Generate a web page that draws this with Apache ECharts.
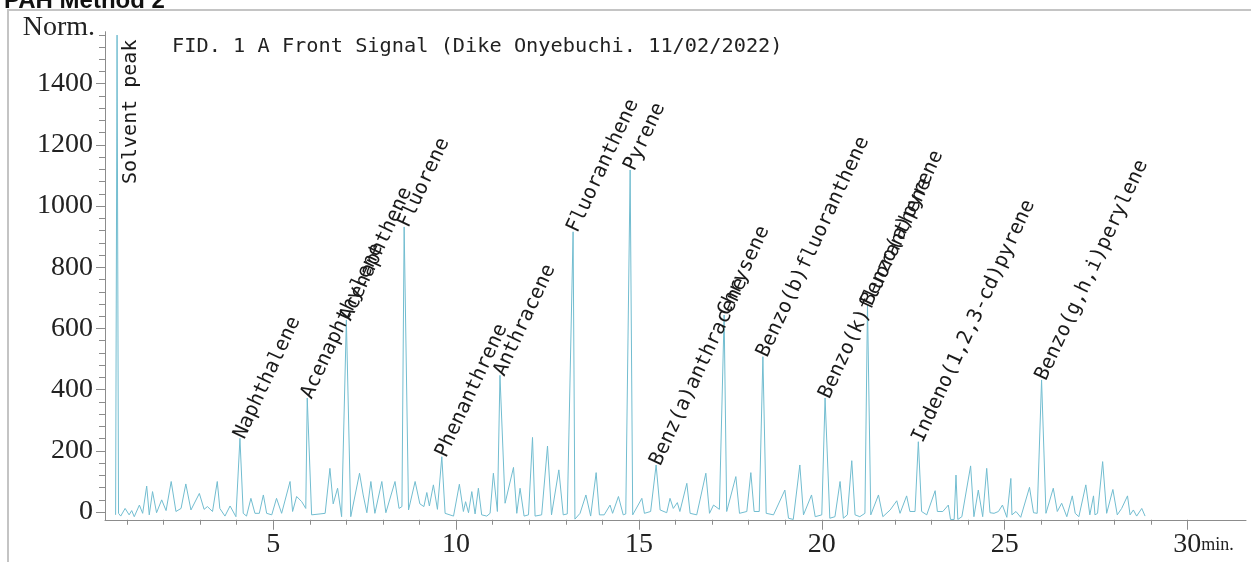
<!DOCTYPE html>
<html><head><meta charset="utf-8">
<script src="https://cdn.jsdelivr.net/npm/echarts@6/dist/echarts.min.js"></script>
<style>html,body{margin:0;padding:0;background:#fff}#c{width:1251px;height:562px}</style>
</head><body><div id="c"></div>
<script>
// Retention time (min) of each vertex of the trace
const retentionTime = [
0.69,0.73,0.77,0.83,0.95,1.06,1.13,1.20,1.34,1.43,1.54,1.61,1.70,1.81,1.95,2.07,2.21,2.34,2.48,2.61,
2.75,2.98,3.11,3.20,3.34,3.47,3.54,3.68,3.82,3.98,4.09,4.18,4.27,4.39,4.50,4.62,4.73,4.82,4.96,5.09,
5.23,5.46,5.53,5.64,5.78,5.89,5.93,6.05,6.28,6.42,6.55,6.64,6.76,6.87,7.00,7.12,7.36,7.46,7.56,7.67,
7.78,7.97,8.08,8.33,8.44,8.52,8.58,8.70,8.88,9.01,9.12,9.20,9.27,9.38,9.49,9.61,9.70,9.93,10.09,10.20,
10.26,10.34,10.43,10.52,10.61,10.70,10.84,10.93,11.02,11.13,11.20,11.34,11.57,11.66,11.75,11.86,11.98,12.09,12.16,12.34,
12.50,12.61,12.81,12.93,13.04,13.20,13.25,13.39,13.55,13.68,13.83,13.92,14.05,14.21,14.28,14.44,14.57,14.64,14.76,14.83,
15.08,15.15,15.32,15.47,15.58,15.76,15.85,15.94,16.05,16.12,16.31,16.40,16.58,16.83,16.93,17.04,17.20,17.33,17.40,17.65,
17.75,17.95,18.06,18.15,18.29,18.39,18.48,18.68,18.99,19.09,19.22,19.40,19.50,19.72,19.82,20.00,20.09,20.22,20.36,20.50,
20.59,20.70,20.82,20.91,21.04,21.18,21.25,21.34,21.55,21.67,21.87,22.05,22.14,22.32,22.41,22.55,22.64,22.73,22.87,23.10,
23.16,23.31,23.46,23.52,23.62,23.67,23.72,23.83,24.07,24.16,24.28,24.40,24.51,24.60,24.71,24.83,24.94,25.06,25.17,25.20,
25.31,25.44,25.68,25.79,25.89,26.01,26.13,26.33,26.44,26.56,26.70,26.85,26.93,27.03,27.22,27.33,27.43,27.47,27.54,27.68,
27.79,27.96,28.08,28.20,28.36,28.43,28.52,28.61,28.75,28.84
];
// Detector response (Norm.) at each vertex
const signal = [
-9,1559,-4,-13,12,-9,5,-15,23,-4,85,-9,67,-2,40,5,100,2,12,92,
7,61,9,18,2,100,12,-13,20,-15,241,-4,-13,45,-4,-4,56,-4,-9,45,
-4,100,2,51,34,12,373,-9,-6,-4,143,27,78,-15,628,-15,127,56,-2,100,
-4,100,-2,100,12,18,932,7,100,27,18,64,20,89,9,181,-4,-13,91,2,
34,-2,67,-6,78,-9,-13,-4,127,2,447,29,146,-4,78,-13,-9,244,-13,-9,
216,-9,138,-9,-6,916,-23,-4,56,-13,129,-9,-9,23,-4,51,-9,-6,1118,-9,
45,-4,2,154,7,-2,45,12,31,2,94,-4,-9,127,-4,23,9,644,2,116,
-4,2,129,2,2,508,-4,-9,72,-20,-24,154,-9,56,-15,-9,373,-20,-15,100,
-20,-9,168,-9,-15,-4,677,-9,56,-15,7,37,-4,53,2,2,230,2,-9,70,
2,2,23,-24,-24,121,-24,-15,151,-15,72,-15,143,-2,-4,2,23,-17,110,-9,
2,-17,81,-2,-4,432,-4,78,2,29,-15,53,-4,-15,89,-9,53,-9,-4,165,
-4,74,-9,12,53,-9,7,-13,12,-13
];
// Peak annotations
const peakNames = ['Solvent peak','Naphthalene','Acenaphthylene','Acenaphthene','Fluorene','Phenanthrene','Anthracene',
  'Fluoranthene','Pyrene','Benz(a)anthracene','Chrysene','Benzo(b)fluoranthene','Benzo(k)fluoranthene',
  'Benzo(a)pyrene','Indeno(1,2,3-cd)pyrene','Benzo(g,h,i)perylene'];
const peakTimes = [0.73,4.09,5.93,7.00,8.58,9.61,11.20,13.20,14.76,15.47,17.33,18.39,20.09,21.25,22.64,26.01];
const peakHeights = [1559,241,373,628,932,181,447,916,1118,154,644,508,373,677,230,432];
// Axis tick labels
const xTickLabels = [5,10,15,20,25,30];
const yTickLabels = [0,200,400,600,800,1000,1200,1400];
const chartTitle = 'PAH Method 2';
const signalTitle = 'FID. 1 A Front Signal (Dike Onyebuchi. 11/02/2022)';
const yName = 'Norm.';
const xUnit = 'min.';

const xMinor = []; for (let i = 1; i <= 29; i++) if (i % 5) xMinor.push(i);
const yMinor = []; for (let v = 40; v <= 1560; v += 40) if (v % 200) yMinor.push(v);

const AXC = '#8c8c8c';
const serif = 'Liberation Serif';
const mono = 'DejaVu Sans Mono';
const gridBox = {left: 105, right: 5, top: 31.7, bottom: 42.25};

const chart = echarts.init(document.getElementById('c'), null, {renderer: 'canvas'});
const labelData = peakNames.map((n, i) => {
  const item = {name: n, value: [peakTimes[i], peakHeights[i]]};
  if (i === 0) {
    item.label = {rotate: 90, align: 'right', verticalAlign: 'top', offset: [-5, 4]};
  }
  return item;
});

chart.setOption({
  animation: false,
  backgroundColor: '#fff',
  title: [
    {text: chartTitle, left: -1, top: -16, textStyle: {fontFamily: 'Liberation Sans', fontWeight: 'bold', fontSize: 24, color: '#111'}},
    {text: signalTitle, left: 167, top: 32, textStyle: {fontFamily: mono, fontWeight: 'normal', fontSize: 20.3, color: '#222'}}
  ],
  graphic: [{type: 'rect', silent: true, shape: {x: 8, y: 10, width: 1400, height: 700}, style: {fill: 'none', stroke: '#c4c4c4', lineWidth: 2}}],
  grid: [Object.assign({}, gridBox), Object.assign({}, gridBox)],
  xAxis: [
    {gridIndex: 0, type: 'value', min: 0.4, max: 31.6,
      axisLine: {onZero: false, lineStyle: {color: AXC, width: 1}},
      axisTick: {show: true, length: 10, customValues: xTickLabels, lineStyle: {color: AXC}},
      splitLine: {show: false},
      axisLabel: {customValues: xTickLabels, margin: 9, color: '#222', fontFamily: serif, fontSize: 28,
        formatter: v => v === 30 ? '{p|}{a|30}{m|' + xUnit + '}' : '{a|' + v + '}',
        rich: {a: {fontFamily: serif, fontSize: 28, color: '#222', verticalAlign: 'bottom', lineHeight: 30},
               m: {fontFamily: serif, fontSize: 18, color: '#222', verticalAlign: 'bottom', lineHeight: 30, padding: [0, 0, 4, 0]},
               p: {width: 32}}}},
    {gridIndex: 1, type: 'value', min: 0.4, max: 31.6,
      axisLine: {show: false, onZero: false},
      axisTick: {show: true, length: 5, customValues: xMinor, lineStyle: {color: AXC}},
      axisLabel: {show: false}, splitLine: {show: false}}
  ],
  yAxis: [
    {gridIndex: 0, type: 'value', min: -25, max: 1570,
      axisLine: {show: true, onZero: false, lineStyle: {color: AXC, width: 1}},
      axisTick: {show: true, length: 9, customValues: yTickLabels, lineStyle: {color: AXC}},
      splitLine: {show: false},
      axisLabel: {customValues: yTickLabels, margin: 12, color: '#222', fontFamily: serif, fontSize: 28, formatter: v => String(v)},
      name: yName, nameLocation: 'end', nameGap: 4,
      nameTextStyle: {fontFamily: serif, fontSize: 28, color: '#222', align: 'right', verticalAlign: 'middle', padding: [0, 10, 0, 0]}},
    {gridIndex: 1, type: 'value', min: -25, max: 1570,
      axisLine: {show: false, onZero: false},
      axisTick: {show: true, length: 6, customValues: yMinor, lineStyle: {color: AXC}},
      axisLabel: {show: false}, splitLine: {show: false}}
  ],
  series: [
    {type: 'line', xAxisIndex: 0, yAxisIndex: 0, data: retentionTime.map((t, i) => [t, signal[i]]),
      symbol: 'none', lineStyle: {color: '#72bdd0', width: 1}, silent: true, z: 2},
    {type: 'scatter', xAxisIndex: 0, yAxisIndex: 0, data: labelData, symbolSize: 1,
      itemStyle: {color: 'rgba(0,0,0,0)'}, silent: true, z: 3,
      label: {show: true, formatter: '{b}', position: [0, 0], rotate: 65, align: 'left', verticalAlign: 'middle',
        fontFamily: mono, fontSize: 20, color: '#1a1a1a', opacity: 1}}
  ]
});
</script></body></html>
